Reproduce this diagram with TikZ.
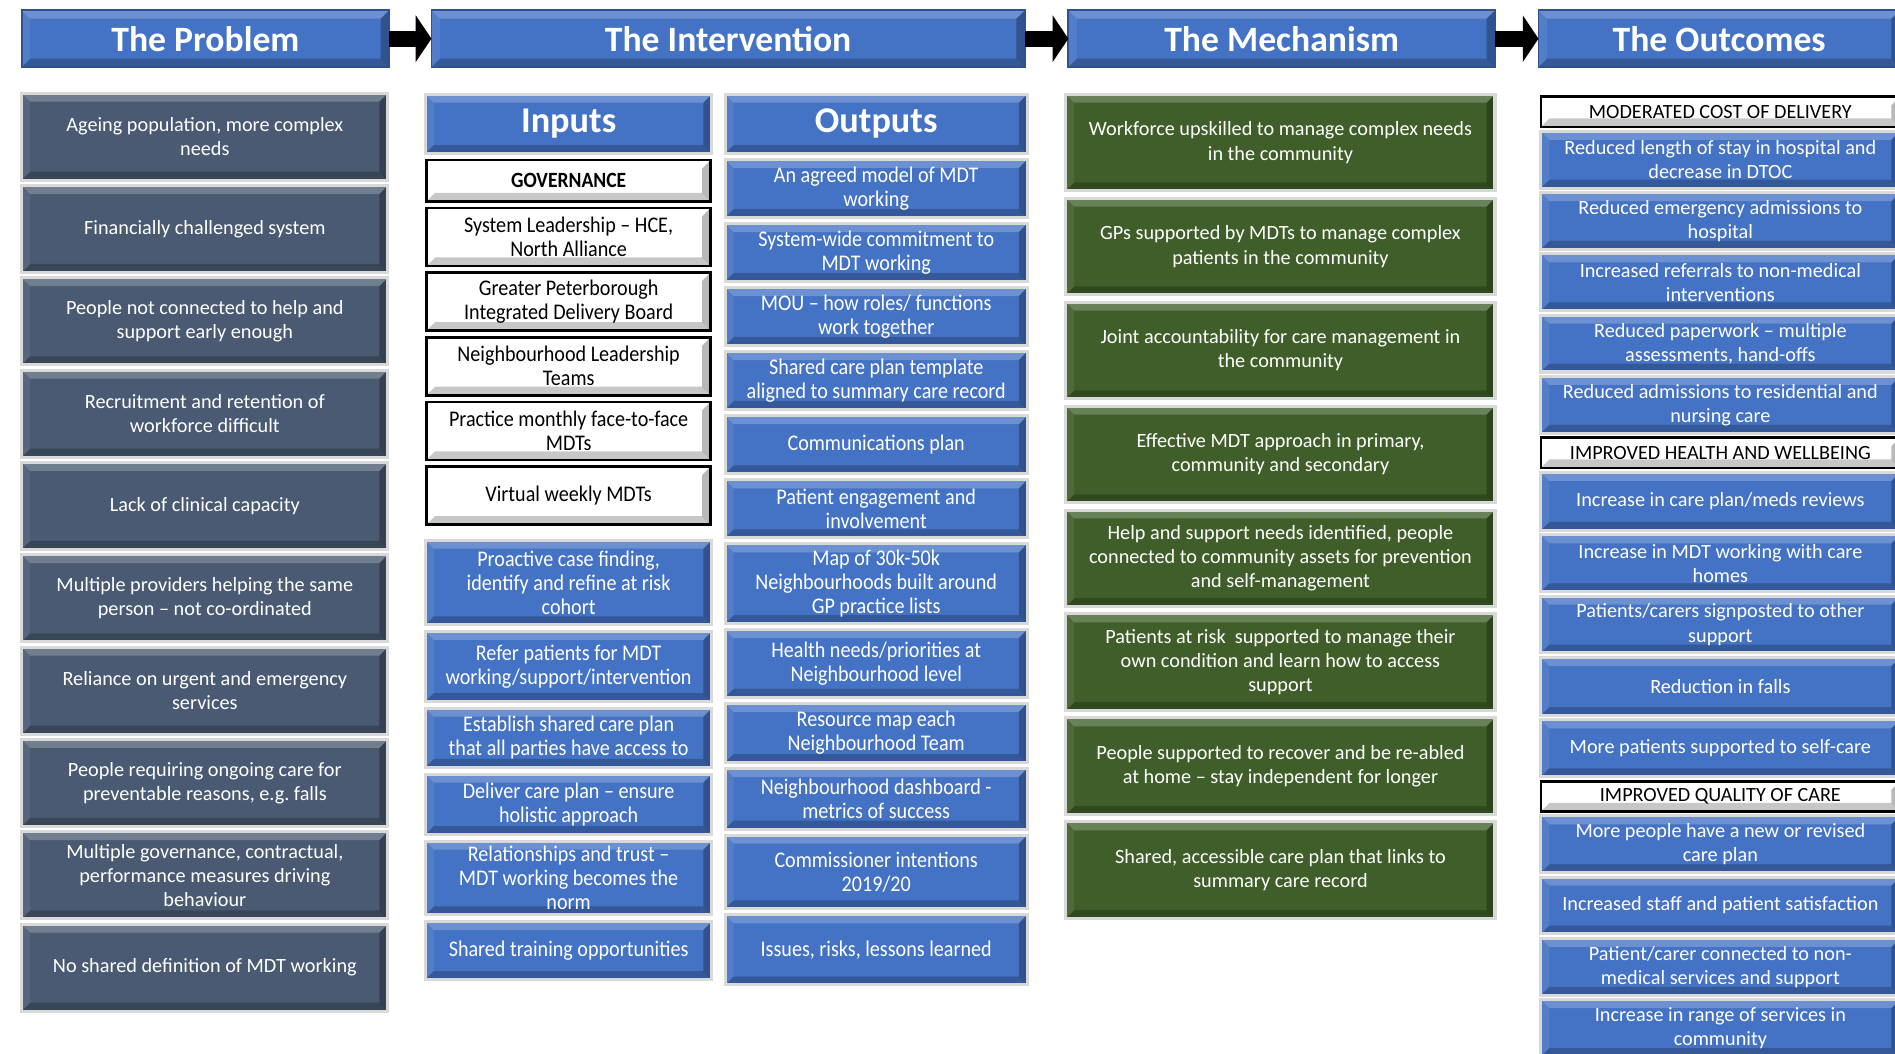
\documentclass[tikz,border=0pt]{standalone}
\usepackage{fontspec}
\setmainfont{Carlito}
\newfontfamily\narrowfont[FakeStretch=0.9]{Carlito}
\usetikzlibrary{calc,chains,positioning,arrows.meta}

\definecolor{hblue}{HTML}{4472C4}
\definecolor{hedge}{HTML}{2F528F}
\definecolor{slate}{HTML}{4A5A72}
\definecolor{mgreen}{HTML}{3F5E2A}

\tikzset{
  bevel/.style={path picture={
      \fill[white,opacity=.22] (path picture bounding box.north west) -- (path picture bounding box.north east)
        -- ++(-7pt,-7pt) -- ($(path picture bounding box.north west)+(7pt,-7pt)$) -- cycle;
      \fill[black,opacity=.28] (path picture bounding box.north east) -- (path picture bounding box.south east)
        -- ++(-7pt,7pt) -- ($(path picture bounding box.north east)+(-7pt,-7pt)$) -- cycle;
      \fill[black,opacity=.22] (path picture bounding box.south west) -- (path picture bounding box.south east)
        -- ++(-7pt,7pt) -- ($(path picture bounding box.south west)+(7pt,7pt)$) -- cycle;
      \fill[white,opacity=.08] (path picture bounding box.north west) -- (path picture bounding box.south west)
        -- ++(7pt,7pt) -- ($(path picture bounding box.north west)+(7pt,-7pt)$) -- cycle;
  }},
  cell/.style={rectangle, align=center, inner sep=0pt, outer sep=0pt, line width=2.5pt, draw=gray!30, bevel},
  prob/.style={cell, fill=slate, text=white, minimum width=303pt, minimum height=72pt, font=\fontsize{16.75}{20}\selectfont},
  mech/.style={cell, fill=mgreen, text=white, minimum width=355pt, minimum height=80pt, font=\fontsize{16.75}{20}\selectfont},
  inbox/.style={cell, fill=hblue, text=white, minimum width=237pt, minimum height=48pt, font=\narrowfont\fontsize{18.5}{20}\selectfont},
  outbox/.style={inbox, minimum width=250pt},
  govbox/.style={cell, fill=white, draw=black, line width=2.2pt, text=black, minimum width=235pt, minimum height=48pt, font=\narrowfont\fontsize{18.5}{20}\selectfont},
  resbox/.style={cell, fill=hblue, text=white, minimum width=297pt, minimum height=47pt, font=\fontsize{16.75}{20}\selectfont},
  tagbox/.style={cell, fill=white, draw=black, line width=2.2pt, text=black, minimum width=297pt, minimum height=25pt, font=\fontsize{16.7}{18}\selectfont},
  head/.style={cell, fill=hblue, draw=hedge, line width=1.5pt, text=white, minimum height=47pt, font=\bfseries\fontsize{29.5}{34}\selectfont},
  fatarrow/.style={line width=13pt, -{Triangle[length=13pt,width=38pt]}},
}

\begin{document}
\begin{tikzpicture}[x=1pt, y=-1pt]
  \useasboundingbox (0,0) rectangle (1568,872);

  % Headers
  \node[head, minimum width=304pt] (hprob) at (170,32) {The Problem};
  \node[head, minimum width=491pt] (hint) at (602.5,32) {The Intervention};
  \node[head, minimum width=353pt] (hmech) at (1060.5,32) {The Mechanism};
  \node[head, minimum width=299pt] (hout) at (1422.5,32) {The Outcomes};
  \draw[fatarrow] (hprob) -- (hint);
  \draw[fatarrow] (hint) -- (hmech);
  \draw[fatarrow] (hmech) -- (hout);

  % The problem
  \begin{scope}[start chain=pc going below, node distance=4.4pt]
    \node[prob, on chain=pc] (p1) at (169.5,113) {Ageing population, more complex\\needs};
    \node[prob, on chain=pc] (p2) {Financially challenged system};
    \node[prob, on chain=pc] (p3) {People not connected to help and\\support early enough};
    \node[prob, on chain=pc] (p4) {Recruitment and retention of\\workforce difficult};
    \node[prob, on chain=pc] (p5) {Lack of clinical capacity};
    \node[prob, on chain=pc] (p6) {Multiple providers helping the same\\person – not co-ordinated};
    \node[prob, on chain=pc] (p7) {Reliance on urgent and emergency\\services};
    \node[prob, on chain=pc] (p8) {People requiring ongoing care for\\preventable reasons, e.g.\ falls};
    \node[prob, on chain=pc] (p9) {Multiple governance, contractual,\\performance measures driving\\behaviour};
    \node[prob, on chain=pc] (p10) {No shared definition of MDT working};
  \end{scope}

  % Inputs
  \begin{scope}[start chain=ic going below, node distance=5.5pt]
    \node[inbox, on chain=ic, minimum height=49pt, font=\bfseries\fontsize{30}{34}\selectfont] (inp) at (470.5,102.5) {Inputs};
    \node[govbox, on chain=ic, minimum height=34pt, font=\narrowfont\bfseries\fontsize{18}{20}\selectfont] (gov) {GOVERNANCE};
    \node[govbox, on chain=ic] (i1) {System Leadership – HCE,\\North Alliance};
    \node[govbox, on chain=ic] (i2) {Greater Peterborough\\Integrated Delivery Board};
    \node[govbox, on chain=ic] (i3) {Neighbourhood Leadership\\Teams};
    \node[govbox, on chain=ic] (i4) {Practice monthly face-to-face\\MDTs};
    \node[govbox, on chain=ic] (i5) {Virtual weekly MDTs};
    \node[inbox, on chain=ic, minimum height=70pt, below=13pt of i5] (i6) {Proactive case finding,\\identify and refine at risk\\cohort};
    \node[inbox, on chain=ic, minimum height=58pt] (i7) {Refer patients for MDT\\working/support/intervention};
    \node[inbox, on chain=ic, minimum height=49pt] (i8) {Establish shared care plan\\that all parties have access to};
    \node[inbox, on chain=ic, minimum height=50pt] (i9) {Deliver care plan – ensure\\holistic approach};
    \node[inbox, on chain=ic, minimum height=61pt] (i10) {Relationships and trust –\\MDT working becomes the\\norm};
    \node[inbox, on chain=ic, minimum height=48pt] (i11) {Shared training opportunities};
  \end{scope}

  % Outputs
  \begin{scope}[start chain=oc going below, node distance=5pt]
    \node[outbox, on chain=oc, minimum height=49pt, font=\bfseries\fontsize{30}{34}\selectfont] (outp) at (725,102.5) {Outputs};
    \node[outbox, on chain=oc] (o1) {An agreed model of MDT\\working};
    \node[outbox, on chain=oc] (o2) {System-wide commitment to\\MDT working};
    \node[outbox, on chain=oc] (o3) {MOU – how roles/ functions\\work together};
    \node[outbox, on chain=oc] (o4) {Shared care plan template\\aligned to summary care record};
    \node[outbox, on chain=oc] (o5) {Communications plan};
    \node[outbox, on chain=oc] (o6) {Patient engagement and\\involvement};
    \node[outbox, on chain=oc, minimum height=66pt] (o7) {Map of 30k-50k\\Neighbourhoods built around\\GP practice lists};
    \node[outbox, on chain=oc, minimum height=56pt] (o8) {Health needs/priorities at\\Neighbourhood level};
    \node[outbox, on chain=oc, minimum height=49pt] (o9) {Resource map each\\Neighbourhood Team};
    \node[outbox, on chain=oc, minimum height=50pt] (o10) {Neighbourhood dashboard -\\metrics of success};
    \node[outbox, on chain=oc, minimum height=61pt] (o11) {Commissioner intentions\\2019/20};
    \node[outbox, on chain=oc, minimum height=58pt] (o12) {Issues, risks, lessons learned};
  \end{scope}

  % The mechanism
  \begin{scope}[start chain=mc going below, node distance=6pt]
    \node[mech, on chain=mc] (m1) at (1059.5,118) {Workforce upskilled to manage complex needs\\in the community};
    \node[mech, on chain=mc] (m2) {GPs supported by MDTs to manage complex\\patients in the community};
    \node[mech, on chain=mc] (m3) {Joint accountability for care management in\\the community};
    \node[mech, on chain=mc] (m4) {Effective MDT approach in primary,\\community and secondary};
    \node[mech, on chain=mc] (m5) {Help and support needs identified, people\\connected to community assets for prevention\\and self-management};
    \node[mech, on chain=mc] (m6) {Patients at risk\ \ supported to manage their\\own condition and learn how to access\\support};
    \node[mech, on chain=mc] (m7) {People supported to recover and be re-abled\\at home – stay independent for longer};
    \node[mech, on chain=mc] (m8) {Shared, accessible care plan that links to\\summary care record};
  \end{scope}

  % The outcomes
  \begin{scope}[start chain=rc going below, node distance=3.7pt]
    \node[tagbox, on chain=rc] (t1) at (1423.5,92.5) {MODERATED COST OF DELIVERY};
    \node[resbox, on chain=rc] (r1) {Reduced length of stay in hospital and\\decrease in DTOC};
    \node[resbox, on chain=rc] (r2) {Reduced emergency admissions to\\hospital};
    \node[resbox, on chain=rc] (r3) {Increased referrals to non-medical\\interventions};
    \node[resbox, on chain=rc] (r4) {Reduced paperwork – multiple\\assessments, hand-offs};
    \node[resbox, on chain=rc] (r5) {Reduced admissions to residential and\\nursing care};
    \node[tagbox, on chain=rc] (t2) {IMPROVED HEALTH AND WELLBEING};
    \node[resbox, on chain=rc, minimum height=48pt] (r6) {Increase in care plan/meds reviews};
    \node[resbox, on chain=rc] (r7) {Increase in MDT working with care\\homes};
    \node[resbox, on chain=rc] (r8) {Patients/carers signposted to other\\support};
    \node[resbox, on chain=rc, minimum height=48pt] (r9) {Reduction in falls};
    \node[resbox, on chain=rc] (r10) {More patients supported to self-care};
    \node[tagbox, on chain=rc] (t3) {IMPROVED QUALITY OF CARE};
    \node[resbox, on chain=rc] (r11) {More people have a new or revised\\care plan};
    \node[resbox, on chain=rc] (r12) {Increased staff and patient satisfaction};
    \node[resbox, on chain=rc] (r13) {Patient/carer connected to non-\\medical services and support};
    \node[resbox, on chain=rc] (r14) {Increase in range of services in\\community};
  \end{scope}
\end{tikzpicture}
\end{document}
